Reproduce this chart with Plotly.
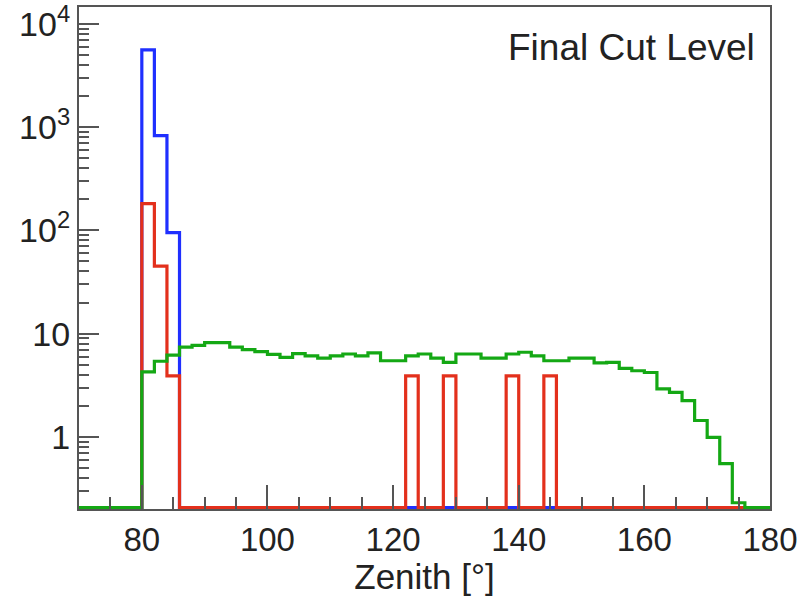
import numpy as np
import plotly.graph_objects as go

# ---- data (2-degree zenith bins, 70..180) ----
bin_width = 2
x_min, x_max = 70, 180

# blue: bins starting at 80, 82, 84
blue_start = 80
blue_counts = [5600, 830, 95]

# red: bins starting at 80, 82, 84 plus isolated bins
red_start = 80
red_counts = [182, 45, 3.9]
red_extra_bins = [122, 128, 138, 144]
red_extra_counts = [3.9, 3.9, 3.9, 3.9]

# green: bins starting at 80 .. 174
green_start = 80
green_counts = [4.27, 5.4, 6.2, 7.4, 7.7, 8.2, 8.2, 7.4, 7.0, 6.7,
                6.3, 5.9, 6.4, 6.1, 5.8, 6.1, 6.35, 6.1, 6.5, 5.46,
                5.46, 6.1, 6.35, 5.8, 5.27, 6.35, 6.35, 5.8, 5.8, 6.35,
                6.6, 6.1, 5.46, 5.46, 5.8, 5.8, 5.2, 5.27, 4.6, 4.37,
                4.2, 2.91, 2.7, 2.24, 1.44, 0.99, 0.55, 0.23]

x_tick_vals = [80, 100, 120, 140, 160, 180]
y_tick_vals = [1, 10, 100, 1000, 10000]
y_tick_text = ["1", "10", "10<sup>2</sup>", "10<sup>3</sup>", "10<sup>4</sup>"]
label_text = "Final Cut Level"
x_title = "Zenith [°]"

# ---- build histograms ----
edges = np.arange(x_min, x_max + bin_width, bin_width)
nbins = len(edges) - 1
y_lo, y_hi = 0.2, 14600
floor = 0.206  # zero bins drawn on the axis (ROOT log style)


def fill(start, counts, extra_bins=(), extra_counts=()):
    h = np.zeros(nbins)
    i0 = int((start - x_min) / bin_width)
    h[i0:i0 + len(counts)] = counts
    for b, c in zip(extra_bins, extra_counts):
        h[int((b - x_min) / bin_width)] = c
    return h


h_blue = fill(blue_start, blue_counts)
h_red = fill(red_start, red_counts, red_extra_bins, red_extra_counts)
h_green = fill(green_start, green_counts)


def step_y(h):
    v = np.where(h > 0, h, floor)
    return np.append(v, v[-1])


font = "Liberation Sans, Arial, Helvetica, sans-serif"
axis_col = "#555555"
text_col = "#222222"

fig = go.Figure()
for h, col in [(h_blue, "#1f2fff"), (h_red, "#e3301c"), (h_green, "#14a814")]:
    fig.add_trace(go.Scatter(x=edges, y=step_y(h), mode="lines",
                             line=dict(color=col, width=3.2, shape="hv"),
                             hoverinfo="skip", showlegend=False))

x_minor = [v for v in range(x_min + 5, x_max, 5) if v not in x_tick_vals]
y_minor = [k * 10.0 ** e for e in range(-1, 5) for k in range(2, 10)
           if y_lo <= k * 10.0 ** e <= y_hi]

fig.update_layout(
    width=812, height=596,
    margin=dict(l=79, r=42, t=7, b=87),
    plot_bgcolor="white", paper_bgcolor="white",
    font=dict(family=font, color=text_col),
    xaxis=dict(
        range=[x_min, x_max], showgrid=False, zeroline=False, automargin=False,
        showline=True, linecolor=axis_col, linewidth=2, mirror=True,
        ticks="inside", ticklen=24, tickwidth=2, tickcolor=axis_col,
        tickmode="array", tickvals=x_tick_vals, ticklabeloverflow="allow",
        tickfont=dict(size=33, family=font, color=text_col),
        ticklabelstandoff=0,
        minor=dict(tickmode="array", tickvals=x_minor, ticks="inside",
                   ticklen=12, tickwidth=2, tickcolor=axis_col, showgrid=False),
        title=dict(text=x_title, font=dict(size=35, family=font, color=text_col),
                   standoff=12),
    ),
    yaxis=dict(
        type="log", range=[np.log10(y_lo), np.log10(y_hi)], automargin=False,
        showgrid=False, zeroline=False, ticklabeloverflow="allow",
        showline=True, linecolor=axis_col, linewidth=2, mirror=True,
        ticks="inside", ticklen=20, tickwidth=2, tickcolor=axis_col,
        tickmode="array", tickvals=y_tick_vals, ticktext=y_tick_text,
        tickfont=dict(size=34, family=font, color=text_col),
        minor=dict(tickmode="array", tickvals=y_minor, ticks="inside",
                   ticklen=10, tickwidth=2, tickcolor=axis_col, showgrid=False),
    ),
    annotations=[dict(text=label_text, xref="paper", yref="paper",
                      x=0.981, y=0.92, xanchor="right", yanchor="middle",
                      showarrow=False,
                      font=dict(size=37, family=font, color=text_col))],
)

fig.write_html("out.html")
